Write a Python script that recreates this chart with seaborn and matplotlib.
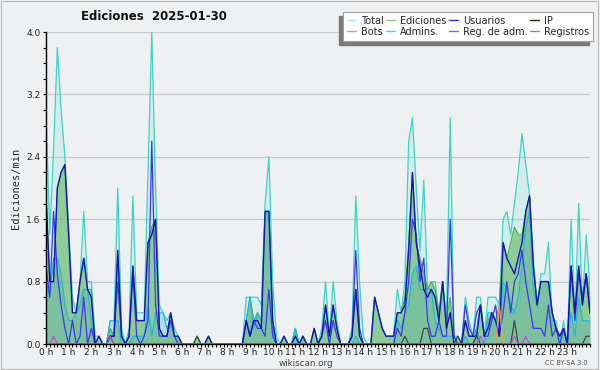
import numpy as np
import pandas as pd
import matplotlib
matplotlib.use("Agg")
import matplotlib.pyplot as plt
from matplotlib.lines import Line2D
from matplotlib.patches import Rectangle
from matplotlib.ticker import MultipleLocator
import seaborn as sns

# ---------------------------------------------------------------
# Data: edits per minute, one value every 10 minutes (0:00 .. 24:00)
# ---------------------------------------------------------------
minutos = list(range(0, 1441, 10))

total = [
    3.0, 1.4, 2.5, 3.8, 3.0, 2.4, 1.5, 0.6, 0.4, 0.8, 1.7, 0.8,
    0.8, 0.1, 0.1, 0.0, 0.0, 0.3, 0.3, 2.0, 0.2, 0.0, 0.2, 1.9,
    0.4, 0.4, 0.4, 2.2, 4.0, 2.0, 0.5, 0.4, 0.3, 0.4, 0.2, 0.1,
    0.0, 0.0, 0.0, 0.0, 0.1, 0.0, 0.0, 0.1, 0.0, 0.0, 0.0, 0.0,
    0.0, 0.0, 0.0, 0.0, 0.0, 0.6, 0.6, 0.6, 0.6, 0.5, 1.8, 2.4,
    0.8, 0.1, 0.0, 0.1, 0.0, 0.0, 0.2, 0.0, 0.1, 0.0, 0.0, 0.2,
    0.0, 0.2, 0.8, 0.1, 0.8, 0.3, 0.0, 0.0, 0.0, 0.2, 1.9, 0.8,
    0.1, 0.0, 0.0, 0.6, 0.4, 0.2, 0.1, 0.1, 0.1, 0.7, 0.4, 0.8,
    2.6, 2.9, 2.0, 1.2, 2.1, 0.7, 0.8, 0.8, 0.4, 0.8, 0.3, 2.9,
    0.1, 0.1, 0.0, 0.6, 0.3, 0.1, 0.6, 0.6, 0.1, 0.6, 0.6, 0.6,
    0.5, 1.6, 1.7, 1.4, 1.8, 2.2, 2.7, 2.3, 1.9, 1.1, 0.5, 0.9,
    0.9, 1.3, 0.3, 0.3, 0.0, 0.3, 0.0, 1.6, 0.3, 1.8, 0.5, 1.4,
    0.7,
]
ediciones = [
    1.9, 0.8, 0.8, 2.0, 2.2, 2.3, 1.4, 0.4, 0.4, 0.8, 1.1, 0.7,
    0.7, 0.0, 0.1, 0.0, 0.0, 0.2, 0.1, 1.2, 0.1, 0.0, 0.1, 1.0,
    0.3, 0.3, 0.3, 1.3, 1.5, 1.6, 0.2, 0.1, 0.1, 0.4, 0.1, 0.1,
    0.0, 0.0, 0.0, 0.0, 0.1, 0.0, 0.0, 0.1, 0.0, 0.0, 0.0, 0.0,
    0.0, 0.0, 0.0, 0.0, 0.0, 0.3, 0.6, 0.3, 0.4, 0.3, 1.7, 1.7,
    0.3, 0.0, 0.0, 0.1, 0.0, 0.0, 0.2, 0.0, 0.1, 0.0, 0.0, 0.2,
    0.0, 0.1, 0.5, 0.1, 0.5, 0.2, 0.0, 0.0, 0.0, 0.1, 0.7, 0.1,
    0.0, 0.0, 0.0, 0.6, 0.4, 0.2, 0.1, 0.1, 0.1, 0.4, 0.4, 0.6,
    1.3, 2.2, 1.3, 1.1, 0.9, 0.7, 0.8, 0.7, 0.4, 0.8, 0.3, 0.6,
    0.0, 0.1, 0.0, 0.3, 0.1, 0.1, 0.2, 0.5, 0.1, 0.3, 0.4, 0.3,
    0.5, 1.3, 1.1, 1.3, 1.5, 1.4, 1.4, 1.7, 1.9, 1.0, 0.5, 0.8,
    0.8, 0.8, 0.4, 0.2, 0.1, 0.2, 0.0, 1.0, 0.4, 1.0, 0.5, 0.9,
    0.6,
]
usuarios = [
    1.9, 0.8, 0.8, 2.0, 2.2, 2.3, 1.4, 0.4, 0.4, 0.8, 1.1, 0.7,
    0.6, 0.0, 0.1, 0.0, 0.0, 0.1, 0.1, 1.2, 0.1, 0.0, 0.1, 1.0,
    0.3, 0.3, 0.3, 1.3, 1.4, 1.6, 0.2, 0.1, 0.1, 0.4, 0.1, 0.1,
    0.0, 0.0, 0.0, 0.0, 0.0, 0.0, 0.0, 0.1, 0.0, 0.0, 0.0, 0.0,
    0.0, 0.0, 0.0, 0.0, 0.0, 0.3, 0.1, 0.3, 0.3, 0.2, 1.7, 1.7,
    0.3, 0.0, 0.0, 0.1, 0.0, 0.0, 0.1, 0.0, 0.1, 0.0, 0.0, 0.2,
    0.0, 0.1, 0.5, 0.1, 0.5, 0.2, 0.0, 0.0, 0.0, 0.1, 0.7, 0.1,
    0.0, 0.0, 0.0, 0.6, 0.4, 0.2, 0.1, 0.1, 0.1, 0.4, 0.4, 0.5,
    1.2, 2.2, 1.3, 1.0, 0.7, 0.6, 0.7, 0.6, 0.3, 0.8, 0.2, 0.4,
    0.0, 0.0, 0.0, 0.3, 0.1, 0.1, 0.1, 0.5, 0.1, 0.2, 0.4, 0.3,
    0.1, 1.3, 1.1, 1.0, 0.9, 1.1, 1.3, 1.7, 1.9, 1.0, 0.5, 0.8,
    0.8, 0.8, 0.4, 0.2, 0.1, 0.2, 0.0, 1.0, 0.4, 1.0, 0.5, 0.9,
    0.4,
]
registros = [
    1.0, 0.6, 1.7, 0.9, 0.5, 0.2, 0.0, 0.3, 0.0, 0.1, 0.6, 0.0,
    0.2, 0.0, 0.0, 0.0, 0.0, 0.1, 0.1, 0.8, 0.1, 0.0, 0.1, 0.9,
    0.1, 0.0, 0.1, 0.3, 2.6, 0.5, 0.1, 0.1, 0.1, 0.3, 0.1, 0.0,
    0.0, 0.0, 0.0, 0.0, 0.0, 0.0, 0.0, 0.0, 0.0, 0.0, 0.0, 0.0,
    0.0, 0.0, 0.0, 0.0, 0.0, 0.3, 0.1, 0.3, 0.2, 0.2, 0.1, 0.7,
    0.1, 0.0, 0.0, 0.0, 0.0, 0.0, 0.0, 0.0, 0.0, 0.0, 0.0, 0.0,
    0.0, 0.1, 0.3, 0.0, 0.3, 0.1, 0.0, 0.0, 0.0, 0.1, 1.2, 0.2,
    0.0, 0.0, 0.0, 0.0, 0.0, 0.0, 0.0, 0.0, 0.0, 0.2, 0.1, 0.4,
    0.8, 1.6, 1.4, 0.8, 1.1, 0.3, 0.1, 0.1, 0.3, 0.1, 0.1, 1.6,
    0.1, 0.0, 0.0, 0.5, 0.2, 0.1, 0.4, 0.5, 0.1, 0.1, 0.3, 0.5,
    0.1, 0.4, 0.8, 0.4, 0.8, 0.9, 1.2, 0.8, 0.5, 0.2, 0.2, 0.2,
    0.1, 0.5, 0.1, 0.2, 0.0, 0.2, 0.0, 1.0, 0.3, 0.9, 0.6, 0.9,
    0.4,
]
admins = [
    0.8, 0.6, 1.1, 1.1, 0.9, 0.5, 0.3, 0.3, 0.4, 0.5, 0.7, 0.7,
    0.3, 0.0, 0.0, 0.0, 0.0, 0.3, 0.3, 0.3, 0.0, 0.0, 0.0, 0.1,
    0.1, 0.1, 0.1, 0.5, 0.1, 0.4, 0.4, 0.4, 0.2, 0.3, 0.1, 0.0,
    0.0, 0.0, 0.0, 0.0, 0.0, 0.0, 0.0, 0.0, 0.0, 0.0, 0.0, 0.0,
    0.0, 0.0, 0.0, 0.0, 0.0, 0.3, 0.6, 0.2, 0.4, 0.3, 1.7, 1.7,
    0.2, 0.0, 0.0, 0.0, 0.0, 0.0, 0.2, 0.0, 0.1, 0.0, 0.0, 0.0,
    0.0, 0.0, 0.0, 0.0, 0.0, 0.0, 0.0, 0.0, 0.0, 0.0, 0.1, 0.0,
    0.0, 0.0, 0.0, 0.0, 0.0, 0.0, 0.0, 0.0, 0.0, 0.3, 0.2, 0.4,
    0.5, 0.9, 1.0, 0.7, 0.7, 0.7, 0.7, 0.3, 0.2, 0.1, 0.1, 0.1,
    0.1, 0.0, 0.0, 0.1, 0.0, 0.0, 0.2, 0.0, 0.0, 0.4, 0.4, 0.3,
    0.1, 0.8, 0.7, 0.5, 0.4, 0.6, 1.0, 1.5, 1.7, 0.7, 0.5, 0.8,
    0.8, 0.8, 0.4, 0.2, 0.1, 0.2, 0.0, 0.4, 0.1, 0.6, 0.3, 0.3,
    0.3,
]
ip = [
    0.0, 0.0, 0.0, 0.0, 0.0, 0.0, 0.0, 0.0, 0.0, 0.0, 0.0, 0.0,
    0.0, 0.0, 0.0, 0.0, 0.0, 0.1, 0.0, 0.0, 0.0, 0.0, 0.0, 0.0,
    0.0, 0.0, 0.0, 0.0, 0.0, 0.0, 0.0, 0.0, 0.0, 0.0, 0.0, 0.0,
    0.0, 0.0, 0.0, 0.0, 0.1, 0.0, 0.0, 0.0, 0.0, 0.0, 0.0, 0.0,
    0.0, 0.0, 0.0, 0.0, 0.0, 0.0, 0.0, 0.0, 0.0, 0.0, 0.0, 0.0,
    0.0, 0.0, 0.0, 0.0, 0.0, 0.0, 0.0, 0.0, 0.0, 0.0, 0.0, 0.0,
    0.0, 0.0, 0.0, 0.0, 0.0, 0.0, 0.0, 0.0, 0.0, 0.0, 0.0, 0.0,
    0.0, 0.0, 0.0, 0.0, 0.0, 0.0, 0.0, 0.0, 0.0, 0.0, 0.0, 0.1,
    0.0, 0.0, 0.0, 0.0, 0.2, 0.2, 0.0, 0.0, 0.0, 0.0, 0.0, 0.0,
    0.0, 0.1, 0.0, 0.0, 0.0, 0.0, 0.1, 0.0, 0.0, 0.0, 0.0, 0.0,
    0.0, 0.0, 0.0, 0.0, 0.3, 0.0, 0.0, 0.0, 0.0, 0.0, 0.0, 0.0,
    0.0, 0.0, 0.0, 0.0, 0.0, 0.0, 0.0, 0.0, 0.0, 0.0, 0.0, 0.1,
    0.1,
]
bots = [0.0] * 120 + [0.5] + [0.0] * 24
reg_adm = [
    0.0, 0.0, 0.1, 0.0, 0.0, 0.0, 0.0, 0.0, 0.0, 0.0, 0.0, 0.0,
    0.0, 0.0, 0.0, 0.0, 0.0, 0.1, 0.0, 0.0, 0.0, 0.0, 0.0, 0.0,
    0.0, 0.0, 0.0, 0.0, 0.0, 0.0, 0.0, 0.0, 0.0, 0.0, 0.0, 0.0,
    0.0, 0.0, 0.0, 0.0, 0.0, 0.0, 0.0, 0.0, 0.0, 0.0, 0.0, 0.0,
    0.0, 0.0, 0.0, 0.0, 0.0, 0.0, 0.0, 0.0, 0.0, 0.0, 0.0, 0.0,
    0.0, 0.0, 0.0, 0.0, 0.0, 0.0, 0.0, 0.0, 0.0, 0.0, 0.0, 0.0,
    0.0, 0.0, 0.0, 0.0, 0.0, 0.0, 0.0, 0.0, 0.0, 0.0, 0.0, 0.0,
    0.0, 0.0, 0.0, 0.0, 0.0, 0.0, 0.0, 0.0, 0.0, 0.0, 0.0, 0.0,
    0.0, 0.0, 0.0, 0.0, 0.0, 0.0, 0.0, 0.0, 0.0, 0.0, 0.0, 0.0,
    0.0, 0.0, 0.0, 0.0, 0.0, 0.0, 0.0, 0.1, 0.0, 0.0, 0.0, 0.0,
    0.0, 0.0, 0.0, 0.0, 0.1, 0.0, 0.0, 0.1, 0.0, 0.0, 0.0, 0.0,
    0.0, 0.0, 0.0, 0.0, 0.0, 0.0, 0.0, 0.0, 0.0, 0.0, 0.0, 0.0,
    0.0,
]

hour_labels = [f"{h} h" for h in range(24)]
legend_labels = ["Total", "Bots", "Ediciones", "Admins.",
                 "Usuarios", "Reg. de adm.", "IP", "Registros"]

df = pd.DataFrame({
    "minuto": minutos, "total": total, "ediciones": ediciones,
    "usuarios": usuarios, "registros": registros, "admins": admins,
    "ip": ip, "bots": bots, "reg_adm": reg_adm,
})
df["hora"] = df["minuto"] / 60

# ---------------------------------------------------------------
# Style
# ---------------------------------------------------------------
BG = "#eff0f2"
sns.set_style("white", {"axes.facecolor": BG, "figure.facecolor": BG})
plt.rcParams["font.family"] = ["DejaVu Sans"]

fig = plt.figure(figsize=(6, 3.7), dpi=100)
ax = fig.add_axes([46 / 600, 26 / 370, 544 / 600, 312 / 370])

# filled areas
ax.fill_between(df["hora"], 0, df["total"], color="#40e0d0", alpha=0.15, lw=0, zorder=1)
ax.fill_between(df["hora"], 0, df["ediciones"], color="#70bf70", alpha=0.7, lw=0, zorder=2)
ax.fill_between(df["hora"], 0, df["admins"], color="#3090c8", alpha=0.18, lw=0, zorder=3)

lines = [
    ("total", "#3cd4c6", 0.9),
    ("ediciones", "#4cae4c", 0.8),
    ("admins", "#26b6da", 0.9),
    ("registros", "#3838f2", 0.9),
    ("usuarios", "#1414b0", 1.0),
    ("ip", "#3a3a3a", 0.8),
    ("bots", "#ff9933", 0.8),
    ("reg_adm", "#cc3ddd", 0.8),
]
for k, (col, color, lw) in enumerate(lines):
    sns.lineplot(data=df, x="hora", y=col, color=color, lw=lw, ax=ax,
                 estimator=None, sort=False, zorder=4 + k)

ax.set_xlim(0, 24)
ax.set_ylim(0, 4.0)
ax.set_xlabel("")
ax.set_ylabel("Ediciones/min", family="DejaVu Sans Mono", fontsize=7.5, labelpad=4)

ax.set_xticks(range(24))
ax.set_xticklabels(hour_labels)
ax.xaxis.set_minor_locator(MultipleLocator(1 / 6))
ax.set_yticks(np.arange(0, 4.01, 0.8))
ax.set_yticklabels([f"{v:.1f}" for v in np.arange(0, 4.01, 0.8)])
ax.yaxis.set_minor_locator(MultipleLocator(0.2))
ax.tick_params(axis="both", which="both", direction="out", length=2.5, width=0.8,
               color="black", labelsize=6.5, labelcolor="#222222", pad=1.5)
ax.tick_params(axis="x", which="both", bottom=True, pad=0.3)
ax.tick_params(axis="y", which="both", left=True)

ax.grid(axis="y", which="major", color="#c9c9c9", lw=0.9, zorder=0)
ax.set_axisbelow(True)
for s in ["top", "right"]:
    ax.spines[s].set_visible(False)
for s in ["left", "bottom"]:
    ax.spines[s].set_color("black")
    ax.spines[s].set_linewidth(1.0)
    ax.spines[s].set_zorder(20)

# title and footer
fig.text(154 / 600, 1 - 17 / 370, "Ediciones  2025-01-30", ha="center", va="center",
         fontsize=8.5, fontweight="bold", color="#111111")
fig.text(306 / 600, 1 - 363 / 370, "wikiscan.org", ha="center", va="center",
         fontsize=6.3, color="#444444")
fig.text(566 / 600, 1 - 363 / 370, "CC BY-SA 3.0", ha="center", va="center",
         fontsize=4.8, color="#555555")

# legend with a hand-made shadow offset to the lower left
handle_colors = ["#a8e8e0", "#f0a040", "#88cc88", "#50d0e0",
                 "#3535c8", "#c850e0", "#222222", "#8080e8"]
handles = [Line2D([0], [0], color=c, lw=1.0) for c in handle_colors]
leg = fig.legend(handles, legend_labels, ncol=4, loc="upper right",
                 bbox_to_anchor=(593 / 600, 1 - 12 / 370), fontsize=7,
                 frameon=True, fancybox=False, handlelength=0.9,
                 handletextpad=0.5, columnspacing=0.3, borderpad=0.4,
                 labelspacing=0.1, borderaxespad=0,
                 facecolor="white", framealpha=1.0)
leg.get_frame().set_edgecolor("#a0a0a0")
leg.get_frame().set_linewidth(0.8)
leg.set_zorder(10)

fig.canvas.draw()
bb = leg.get_window_extent().transformed(fig.transFigure.inverted())
fig.add_artist(Rectangle((bb.x0 - 4 / 600, bb.y0 - 4 / 370), bb.width, bb.height,
                         transform=fig.transFigure, color="#7a7a7a", zorder=9))

# outer frame of the picture
fig.add_artist(Rectangle((0.002, 0.003), 0.995, 0.994, transform=fig.transFigure,
                         fill=False, edgecolor="#b8b8b8", lw=0.8, zorder=30))

fig.savefig("out.png", dpi=100, facecolor=BG)
